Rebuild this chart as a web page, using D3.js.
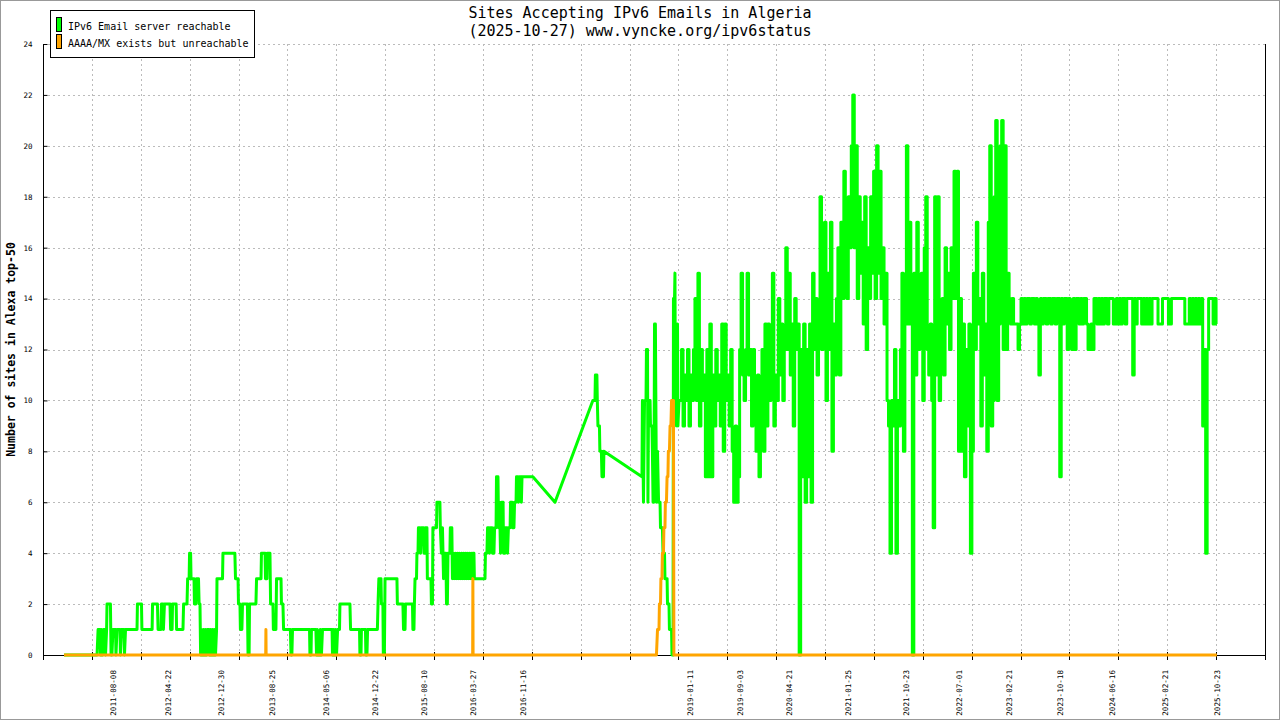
<!DOCTYPE html>
<html>
<head>
<meta charset="utf-8">
<script src="https://cdn.jsdelivr.net/npm/d3@7"></script>
<style>
  body { margin: 0; background: #fff; }
  svg text { font-family: "DejaVu Sans Mono", monospace; fill: #000; }
</style>
</head>
<body>
<div id="chart"></div>
<script>
// ---- data ----
const titleLines = ["Sites Accepting IPv6 Emails in Algeria", "(2025-10-27) www.vyncke.org/ipv6status"];
const yLabel = "Number of sites in Alexa top-50";
const seriesNames = ["IPv6 Email server reachable", "AAAA/MX exists but unreachable"];
const xDomain = ["2010-09-13", "2026-06-06"];
const yTicks = [0, 2, 4, 6, 8, 10, 12, 14, 16, 18, 20, 22, 24];
const xTickCount = 26;
const xLabels = ["2011-08-08", "2012-04-22", "2012-12-30", "2013-08-25", "2014-05-06", "2014-12-22",
  "2015-08-10", "2016-03-27", "2016-11-16", "2019-01-11", "2019-09-03", "2020-04-21", "2021-01-25",
  "2021-10-23", "2022-07-01", "2023-02-21", "2023-10-18", "2024-06-16", "2025-02-21", "2025-10-23"];

// reachable servers, 2010 - 2018
const greenEarly = [
  ["2010-12-21",0],["2011-05-25",0],["2011-05-30",1],["2011-06-08",1],["2011-06-10",0],["2011-06-15",1],
  ["2011-06-20",0],["2011-06-25",1],["2011-07-01",1],["2011-07-04",0],["2011-07-09",1],["2011-07-11",2],
  ["2011-07-27",2],["2011-07-30",0],["2011-08-03",0],["2011-08-08",1],["2011-08-20",1],["2011-08-22",0],
  ["2011-08-27",1],["2011-09-10",1],["2011-09-12",0],["2011-09-17",1],["2011-09-29",1],["2011-10-01",0],
  ["2011-10-06",1],["2011-11-29",1],["2011-12-01",2],["2011-12-20",2],["2011-12-22",1],
  ["2012-02-08",1],["2012-02-10",2],["2012-03-04",2],["2012-03-07",1],["2012-03-21",1],["2012-03-23",2],
  ["2012-03-30",2],["2012-04-01",1],["2012-04-06",2],["2012-05-02",2],["2012-05-05",1],["2012-05-12",1],
  ["2012-05-14",2],["2012-05-31",2],["2012-06-02",1],["2012-07-02",1],["2012-07-05",2],["2012-07-21",2],
  ["2012-07-24",3],["2012-07-31",3],["2012-08-02",4],["2012-08-07",4],["2012-08-09",3],["2012-08-23",3],
  ["2012-08-25",2],["2012-09-01",2],["2012-09-04",3],["2012-09-13",3],["2012-09-16",2],["2012-09-20",2],
  ["2012-09-23",0],["2012-09-27",1],["2012-10-02",0],["2012-10-07",1],["2012-10-11",0],["2012-10-16",1],
  ["2012-10-21",0],["2012-10-25",1],["2012-11-01",1],["2012-11-04",0],["2012-11-09",1],["2012-11-13",0],
  ["2012-11-18",1],["2012-11-23",0],["2012-11-27",1],["2012-12-02",0],["2012-12-07",1],["2012-12-09",3],
  ["2013-01-04",3],["2013-01-06",4],["2013-03-03",4],["2013-03-06",3],["2013-03-18",3],["2013-03-20",2],
  ["2013-03-27",2],["2013-03-29",1],["2013-04-05",1],["2013-04-08",2],["2013-05-01",2],["2013-05-04",0],
  ["2013-05-09",0],["2013-05-11",2],["2013-06-10",2],["2013-06-13",3],["2013-07-04",3],["2013-07-06",4],
  ["2013-07-23",4],["2013-07-25",3],["2013-08-01",3],["2013-08-03",4],["2013-08-15",4],["2013-08-18",2],
  ["2013-08-29",2],["2013-08-31",1],["2013-09-12",1],["2013-09-15",3],["2013-10-06",3],["2013-10-08",2],
  ["2013-10-15",2],["2013-10-18",1],["2013-11-19",1],["2013-11-22",0],["2013-11-26",0],["2013-11-29",1],
  ["2014-02-17",1],["2014-02-19",0],["2014-02-24",0],["2014-02-26",1],["2014-03-19",1],["2014-03-22",0],
  ["2014-03-26",1],["2014-03-31",0],["2014-04-07",0],["2014-04-09",1],["2014-04-14",0],["2014-04-19",1],
  ["2014-06-03",1],["2014-06-05",0],["2014-06-10",1],["2014-06-15",0],["2014-06-19",1],["2014-06-24",0],
  ["2014-06-29",1],["2014-07-08",1],["2014-07-10",2],["2014-08-26",2],["2014-08-29",1],["2014-10-10",1],
  ["2014-10-12",0],["2014-10-17",0],["2014-10-19",1],["2014-11-07",1],["2014-11-09",0],["2014-11-14",0],
  ["2014-11-17",1],
  ["2015-01-02",1],["2015-01-05",2],["2015-01-09",3],["2015-01-19",3],["2015-01-21",2],["2015-01-28",2],
  ["2015-01-30",0],["2015-02-04",0],["2015-02-07",3],["2015-04-04",3],["2015-04-06",2],["2015-05-02",2],
  ["2015-05-05",1],["2015-05-12",1],["2015-05-14",2],["2015-06-16",2],["2015-06-18",1],["2015-06-23",1],
  ["2015-06-25",2],["2015-06-28",3],["2015-07-05",3],["2015-07-07",4],["2015-07-12",4],["2015-07-14",5],
  ["2015-07-21",5],["2015-07-24",4],["2015-07-28",5],["2015-08-07",5],["2015-08-09",4],["2015-08-14",4],
  ["2015-08-16",5],["2015-08-23",5],["2015-08-25",3],["2015-09-11",3],["2015-09-13",2],["2015-09-18",2],
  ["2015-09-20",5],["2015-10-07",5],["2015-10-09",6],["2015-10-23",6],["2015-10-25",5],["2015-10-30",4],
  ["2015-11-04",5],["2015-11-09",3],["2015-11-13",4],["2015-11-20",4],["2015-11-23",2],["2015-11-27",2],
  ["2015-11-30",4],["2015-12-09",4],["2015-12-11",5],["2015-12-18",5],["2015-12-21",3],["2015-12-25",4],
  ["2015-12-30",3],
  ["2016-01-04",4],["2016-01-09",3],["2016-01-14",4],["2016-01-18",3],["2016-01-23",4],["2016-01-28",3],
  ["2016-02-02",4],["2016-02-06",3],["2016-02-11",4],["2016-02-16",3],["2016-02-20",4],["2016-02-25",3],
  ["2016-02-29",4],["2016-03-05",3],["2016-03-10",4],["2016-03-15",3],["2016-03-19",4],["2016-03-24",3],
  ["2016-03-26",4],["2016-03-31",4],["2016-04-02",3],["2016-05-22",3],["2016-05-24",4],["2016-05-31",4],
  ["2016-06-03",5],["2016-06-10",5],["2016-06-12",4],["2016-06-17",5],["2016-06-24",5],["2016-06-26",4],
  ["2016-07-03",4],["2016-07-06",5],["2016-07-13",5],["2016-07-15",7],["2016-07-22",7],["2016-07-25",5],
  ["2016-07-29",6],["2016-08-03",4],["2016-08-08",6],["2016-08-15",6],["2016-08-17",4],["2016-08-24",4],
  ["2016-08-26",5],["2016-09-02",5],["2016-09-05",4],["2016-09-09",5],["2016-09-17",5],["2016-09-19",6],
  ["2016-09-26",6],["2016-09-28",5],["2016-10-05",5],["2016-10-08",6],["2016-10-15",6],["2016-10-17",7],
  ["2016-10-24",7],["2016-10-26",6],["2016-10-31",7],["2016-11-07",7],["2016-11-09",6],["2016-11-12",7],
  ["2017-01-02",7],["2017-04-16",6],["2017-10-11",10],["2017-10-21",10],["2017-10-23",11],["2017-10-30",11],
  ["2017-11-01",10],["2017-11-04",9],["2017-11-11",9],["2017-11-13",8],["2017-11-20",8],["2017-11-23",7],
  ["2017-11-30",7],["2017-12-02",8],
  ["2018-05-30",7],["2018-06-01",10],["2018-06-06",6],["2018-06-11",10],["2018-06-18",10],["2018-06-20",12],
  ["2018-06-25",12],["2018-06-27",6],["2018-06-30",10],["2018-07-07",10],["2018-07-09",9],["2018-07-16",9],
  ["2018-07-18",8],["2018-07-21",6],["2018-07-25",6],["2018-07-28",13],["2018-08-01",13],["2018-08-04",9],
  ["2018-08-06",6],["2018-08-11",8],["2018-08-16",6],["2018-08-23",6],["2018-08-25",5],["2018-09-03",5],
  ["2018-09-06",4],["2018-09-13",4],["2018-09-15",3],["2018-09-25",3],["2018-09-27",2],["2018-10-04",2],
  ["2018-10-06",1],["2018-10-16",1],["2018-10-18",0],["2018-10-23",0],["2018-10-25",14],["2018-10-30",14],
  ["2018-11-01",15],["2018-11-03",10],["2018-11-08",9],["2018-11-13",13],["2018-11-15",9],["2018-11-20",10]
];

// reachable servers, weekly, end 2018 - early 2023
const greenMiddle = [
  ["2018-11-25",10],["2018-12-02",12],["2018-12-09",9],["2018-12-16",11],["2018-12-23",10],["2018-12-30",12],
  ["2019-01-06",9],["2019-01-13",11],["2019-01-20",10],["2019-01-27",12],
  ["2019-02-03",14],["2019-02-10",10],["2019-02-17",15],["2019-02-24",9],
  ["2019-03-03",12],["2019-03-10",10],["2019-03-17",11],["2019-03-24",7],["2019-03-31",12],
  ["2019-04-07",7],["2019-04-14",13],["2019-04-21",7],["2019-04-28",11],
  ["2019-05-05",9],["2019-05-12",12],["2019-05-19",10],["2019-05-26",11],
  ["2019-06-02",9],["2019-06-09",13],["2019-06-16",8],["2019-06-23",13],["2019-06-30",10],
  ["2019-07-07",11],["2019-07-14",9],["2019-07-21",12],["2019-07-28",8],
  ["2019-08-04",6],["2019-08-11",9],["2019-08-18",6],["2019-08-25",7],
  ["2019-09-01",12],["2019-09-08",15],["2019-09-15",11],["2019-09-22",10],["2019-09-29",12],
  ["2019-10-06",15],["2019-10-13",11],["2019-10-20",12],["2019-10-27",9],
  ["2019-11-03",12],["2019-11-10",10],["2019-11-17",8],["2019-11-24",11],
  ["2019-12-01",7],["2019-12-08",10],["2019-12-15",12],["2019-12-22",8],["2019-12-29",13],
  ["2020-01-05",9],["2020-01-12",13],["2020-01-19",10],["2020-01-26",11],
  ["2020-02-02",15],["2020-02-09",9],["2020-02-16",11],["2020-02-23",10],
  ["2020-03-01",14],["2020-03-08",11],["2020-03-15",13],["2020-03-22",10],["2020-03-29",12],
  ["2020-04-05",16],["2020-04-12",12],["2020-04-19",15],["2020-04-26",11],
  ["2020-05-03",13],["2020-05-10",9],["2020-05-17",14],["2020-05-24",12],["2020-05-31",13],
  ["2020-06-07",0],["2020-06-14",12],["2020-06-21",7],["2020-06-28",13],
  ["2020-07-05",6],["2020-07-12",12],["2020-07-19",7],["2020-07-26",13],
  ["2020-08-02",6],["2020-08-09",15],["2020-08-16",12],["2020-08-23",14],["2020-08-30",11],
  ["2020-09-06",13],["2020-09-13",18],["2020-09-20",12],["2020-09-27",14],
  ["2020-10-04",17],["2020-10-11",10],["2020-10-18",15],["2020-10-25",12],
  ["2020-11-01",17],["2020-11-08",8],["2020-11-15",13],["2020-11-22",11],["2020-11-29",14],
  ["2020-12-06",16],["2020-12-13",11],["2020-12-20",17],["2020-12-27",14],
  ["2021-01-03",19],["2021-01-10",16],["2021-01-17",14],["2021-01-24",18],["2021-01-31",16],
  ["2021-02-07",20],["2021-02-14",22],["2021-02-21",16],["2021-02-28",20],
  ["2021-03-07",14],["2021-03-14",18],["2021-03-21",15],["2021-03-28",17],
  ["2021-04-04",13],["2021-04-11",18],["2021-04-18",12],["2021-04-25",16],
  ["2021-05-02",14],["2021-05-09",18],["2021-05-16",15],["2021-05-23",19],["2021-05-30",14],
  ["2021-06-06",20],["2021-06-13",15],["2021-06-20",19],["2021-06-27",14],
  ["2021-07-04",16],["2021-07-11",13],["2021-07-18",15],["2021-07-25",10],
  ["2021-08-01",9],["2021-08-08",4],["2021-08-15",10],["2021-08-22",9],["2021-08-29",12],
  ["2021-09-05",4],["2021-09-12",10],["2021-09-19",9],["2021-09-26",12],
  ["2021-10-03",15],["2021-10-10",8],["2021-10-17",13],["2021-10-24",20],["2021-10-31",13],
  ["2021-11-07",17],["2021-11-14",13],["2021-11-21",0],["2021-11-28",15],
  ["2021-12-05",11],["2021-12-12",17],["2021-12-19",12],["2021-12-26",14],
  ["2022-01-02",15],["2022-01-09",10],["2022-01-16",16],["2022-01-23",18],["2022-01-30",12],
  ["2022-02-06",11],["2022-02-13",13],["2022-02-20",10],["2022-02-27",5],
  ["2022-03-06",18],["2022-03-13",11],["2022-03-20",18],["2022-03-27",10],
  ["2022-04-03",12],["2022-04-10",14],["2022-04-17",11],["2022-04-24",16],
  ["2022-05-01",13],["2022-05-08",15],["2022-05-15",12],["2022-05-22",16],["2022-05-29",14],
  ["2022-06-05",19],["2022-06-12",14],["2022-06-19",19],["2022-06-26",8],
  ["2022-07-03",14],["2022-07-10",8],["2022-07-17",13],["2022-07-24",7],["2022-07-31",12],
  ["2022-08-07",9],["2022-08-14",13],["2022-08-21",4],["2022-08-28",8],
  ["2022-09-04",15],["2022-09-11",12],["2022-09-18",17],["2022-09-25",13],
  ["2022-10-02",14],["2022-10-09",9],["2022-10-16",15],["2022-10-23",11],["2022-10-30",13],
  ["2022-11-06",8],["2022-11-13",17],["2022-11-20",20],["2022-11-27",9],
  ["2022-12-04",10],["2022-12-11",18],["2022-12-18",21],["2022-12-25",10],
  ["2023-01-01",13],["2023-01-08",20],["2023-01-15",21],["2023-01-22",12],["2023-01-29",20],
  ["2023-02-05",12],["2023-02-12",15],["2023-02-19",14],["2023-02-26",13]
];

// reachable servers, weekly, 2023 - 2025
const greenRecent = [
  ["2023-03-05",14],["2023-03-12",13],["2023-03-19",13],["2023-03-26",13],
  ["2023-04-02",12],["2023-04-09",13],["2023-04-16",14],["2023-04-23",13],["2023-04-30",14],
  ["2023-05-07",13],["2023-05-14",14],["2023-05-21",14],["2023-05-28",13],
  ["2023-06-04",14],["2023-06-11",14],["2023-06-18",13],["2023-06-25",14],
  ["2023-07-02",13],["2023-07-09",11],["2023-07-16",14],["2023-07-23",13],["2023-07-30",14],
  ["2023-08-06",14],["2023-08-13",13],["2023-08-20",14],["2023-08-27",14],
  ["2023-09-03",13],["2023-09-10",14],["2023-09-17",14],["2023-09-24",13],
  ["2023-10-01",14],["2023-10-08",14],["2023-10-15",7],["2023-10-22",14],["2023-10-29",13],
  ["2023-11-05",14],["2023-11-12",14],["2023-11-19",12],["2023-11-26",14],
  ["2023-12-03",13],["2023-12-10",12],["2023-12-17",14],["2023-12-24",12],["2023-12-31",14],
  ["2024-01-07",14],["2024-01-14",13],["2024-01-21",14],["2024-01-28",13],
  ["2024-02-04",14],["2024-02-11",14],["2024-02-18",13],["2024-02-25",12],
  ["2024-03-03",12],["2024-03-10",13],["2024-03-17",12],["2024-03-24",14],["2024-03-31",14],
  ["2024-04-07",13],["2024-04-14",14],["2024-04-21",13],["2024-04-28",14],
  ["2024-05-05",13],["2024-05-12",14],["2024-05-19",14],["2024-05-26",13],
  ["2024-06-02",14],["2024-06-09",14],["2024-06-16",14],["2024-06-23",13],["2024-06-30",13],
  ["2024-07-07",14],["2024-07-14",13],["2024-07-21",14],["2024-07-28",13],
  ["2024-08-04",14],["2024-08-11",14],["2024-08-18",13],["2024-08-25",14],
  ["2024-09-01",14],["2024-09-08",14],["2024-09-15",14],["2024-09-22",11],["2024-09-29",14],
  ["2024-10-06",13],["2024-10-13",14],["2024-10-20",14],["2024-10-27",14],
  ["2024-11-03",13],["2024-11-10",14],["2024-11-17",13],["2024-11-24",14],
  ["2024-12-01",13],["2024-12-08",14],["2024-12-15",13],["2024-12-22",14],["2024-12-29",14],
  ["2025-01-05",14],["2025-01-12",14],["2025-01-19",13],["2025-01-26",13],
  ["2025-02-02",13],["2025-02-09",14],["2025-02-16",14],["2025-02-23",14],
  ["2025-03-02",14],["2025-03-09",13],["2025-03-16",13],["2025-03-23",14],["2025-03-30",14],
  ["2025-04-06",14],["2025-04-13",14],["2025-04-20",14],["2025-04-27",14],
  ["2025-05-04",14],["2025-05-11",14],["2025-05-18",14],["2025-05-25",13],
  ["2025-06-01",13],["2025-06-08",13],["2025-06-15",14],["2025-06-22",13],["2025-06-29",14],
  ["2025-07-06",13],["2025-07-13",14],["2025-07-20",13],["2025-07-27",14],
  ["2025-08-03",13],["2025-08-10",14],["2025-08-17",9],["2025-08-24",12],["2025-08-31",4],
  ["2025-09-07",12],["2025-09-14",14],["2025-09-21",14],["2025-09-28",14],
  ["2025-10-05",13],["2025-10-12",14],["2025-10-19",13],["2025-10-23",13]
];

// AAAA/MX present but unreachable
const orangeSeries = [
  ["2010-12-21",0],["2013-07-26",0],["2013-07-27",1],["2013-07-28",0],
  ["2016-03-25",0],["2016-03-26",3],["2016-03-27",0],
  ["2018-08-06",0],["2018-08-11",1],["2018-08-18",1],["2018-08-20",2],["2018-08-25",2],["2018-08-27",3],
  ["2018-09-01",3],["2018-09-03",4],["2018-09-08",4],["2018-09-10",5],["2018-09-15",5],["2018-09-17",6],
  ["2018-09-22",6],["2018-09-25",7],["2018-09-29",7],["2018-10-01",8],["2018-10-06",8],["2018-10-09",9],
  ["2018-10-13",9],["2018-10-16",10],["2018-10-25",10],["2018-10-27",0],["2025-10-23",0]
];

const greenColor = "#00ff00";
const orangeColor = "#ffa500";
const gridColor = "#bbbbbb";

// ---- layout ----
const width = 1280, height = 720;
const plot = {left: 43, right: 1265, top: 44, bottom: 655};

const parse = d3.timeParse("%Y-%m-%d");
const toPoints = arr => arr.map(d => ({date: parse(d[0]), value: d[1]}));
const greenSparse = toPoints(greenEarly);
const greenWeekly = toPoints(greenEarly.slice(-1).concat(greenMiddle, greenRecent));
const orangeData = toPoints(orangeSeries);

const x = d3.scaleTime().domain(xDomain.map(parse)).range([plot.left, plot.right]);
const y = d3.scaleLinear().domain([0, 24]).range([plot.bottom, plot.top]);

// evenly spaced tick marks across the date domain
const [d0, d1] = x.domain();
const xTicks = d3.range(xTickCount).map(i => new Date(+d0 + i * (d1 - d0) / (xTickCount - 1)));

const svg = d3.select("#chart").append("svg")
    .attr("width", width)
    .attr("height", height);

svg.append("rect")
    .attr("x", 0.5).attr("y", 0.5)
    .attr("width", width - 1).attr("height", height - 1)
    .attr("fill", "#fff").attr("stroke", "#999");

// grid
svg.append("g").selectAll("line")
    .data(yTicks.filter(v => v > 0))
    .enter().append("line")
    .attr("x1", plot.left).attr("x2", plot.right)
    .attr("y1", d => Math.round(y(d)) + 0.5).attr("y2", d => Math.round(y(d)) + 0.5)
    .attr("stroke", gridColor).attr("stroke-dasharray", "2,3");

svg.append("g").selectAll("line")
    .data(xTicks.slice(1, -1))
    .enter().append("line")
    .attr("x1", d => Math.round(x(d)) + 0.5).attr("x2", d => Math.round(x(d)) + 0.5)
    .attr("y1", plot.top).attr("y2", plot.bottom)
    .attr("stroke", gridColor).attr("stroke-dasharray", "2,3");

// axes
const yAxis = svg.append("g")
    .attr("transform", "translate(" + (plot.left + 0.5) + ",0)")
    .call(d3.axisLeft(y).tickValues(yTicks).tickSize(5).tickPadding(6));
yAxis.select(".domain").remove();
yAxis.selectAll(".tick line").attr("x2", 4).attr("stroke", "#000");
yAxis.selectAll(".tick text")
    .attr("font-family", "DejaVu Sans Mono").attr("font-size", "7.5px");
yAxis.attr("font-family", null).attr("font-size", null);

svg.append("line")
    .attr("x1", plot.left + 0.5).attr("x2", plot.left + 0.5)
    .attr("y1", plot.top).attr("y2", plot.bottom + 5)
    .attr("stroke", "#000");

svg.append("line")
    .attr("x1", plot.left).attr("x2", plot.right + 1)
    .attr("y1", plot.bottom + 0.5).attr("y2", plot.bottom + 0.5)
    .attr("stroke", "#000");

svg.append("line")
    .attr("x1", plot.right + 0.5).attr("x2", plot.right + 0.5)
    .attr("y1", plot.top).attr("y2", plot.bottom)
    .attr("stroke", "#000");

svg.append("g").selectAll("line")
    .data(xTicks)
    .enter().append("line")
    .attr("x1", d => Math.round(x(d)) + 0.5).attr("x2", d => Math.round(x(d)) + 0.5)
    .attr("y1", plot.bottom - 3).attr("y2", plot.bottom + 5)
    .attr("stroke", "#000");

svg.append("g").selectAll("text")
    .data(xLabels)
    .enter().append("text")
    .attr("transform", d => "translate(" + x(parse(d)) + "," + (plot.bottom + 15) + ") rotate(-90)")
    .attr("dy", "0.35em")
    .attr("text-anchor", "end")
    .attr("font-size", "7.6px")
    .text(d => d);

// series
const line = d3.line()
    .x(d => x(d.date))
    .y(d => y(d.value));
const stepLine = d3.line()
    .curve(d3.curveStepAfter)
    .x(d => x(d.date))
    .y(d => y(d.value));

[[greenSparse, line], [greenWeekly, stepLine]].forEach(([data, gen]) => {
  svg.append("path")
      .datum(data)
      .attr("d", gen)
      .attr("fill", "none")
      .attr("stroke", greenColor)
      .attr("stroke-width", 3)
      .attr("stroke-linejoin", "round");
});

svg.append("path")
    .datum(orangeData)
    .attr("d", line)
    .attr("fill", "none")
    .attr("stroke", orangeColor)
    .attr("stroke-width", 3)
    .attr("stroke-linejoin", "round");

// titles
svg.append("g").selectAll("text")
    .data(titleLines)
    .enter().append("text")
    .attr("x", width / 2)
    .attr("y", (d, i) => 18 + i * 18)
    .attr("text-anchor", "middle")
    .attr("font-size", "15px")
    .text(d => d);

svg.append("text")
    .attr("transform", "translate(11," + ((plot.top + plot.bottom) / 2) + ") rotate(-90)")
    .attr("dy", "0.35em")
    .attr("text-anchor", "middle")
    .attr("font-size", "11.5px")
    .attr("font-weight", "bold")
    .text(yLabel);

// legend
const legend = svg.append("g");
legend.append("rect")
    .attr("x", 50.5).attr("y", 10.5)
    .attr("width", 204).attr("height", 47)
    .attr("fill", "#fff").attr("stroke", "#000");

const legendColors = [greenColor, orangeColor];
const item = legend.selectAll(".item")
    .data(seriesNames)
    .enter().append("g")
    .attr("class", "item")
    .attr("transform", (d, i) => "translate(0," + (i * 17) + ")");

item.append("rect")
    .attr("x", 56.5).attr("y", 17.5)
    .attr("width", 5).attr("height", 14)
    .attr("fill", (d, i) => legendColors[i])
    .attr("stroke", "#000");

item.append("text")
    .attr("x", 68).attr("y", 29.5)
    .attr("font-size", "10px")
    .text(d => d);
</script>
</body>
</html>
